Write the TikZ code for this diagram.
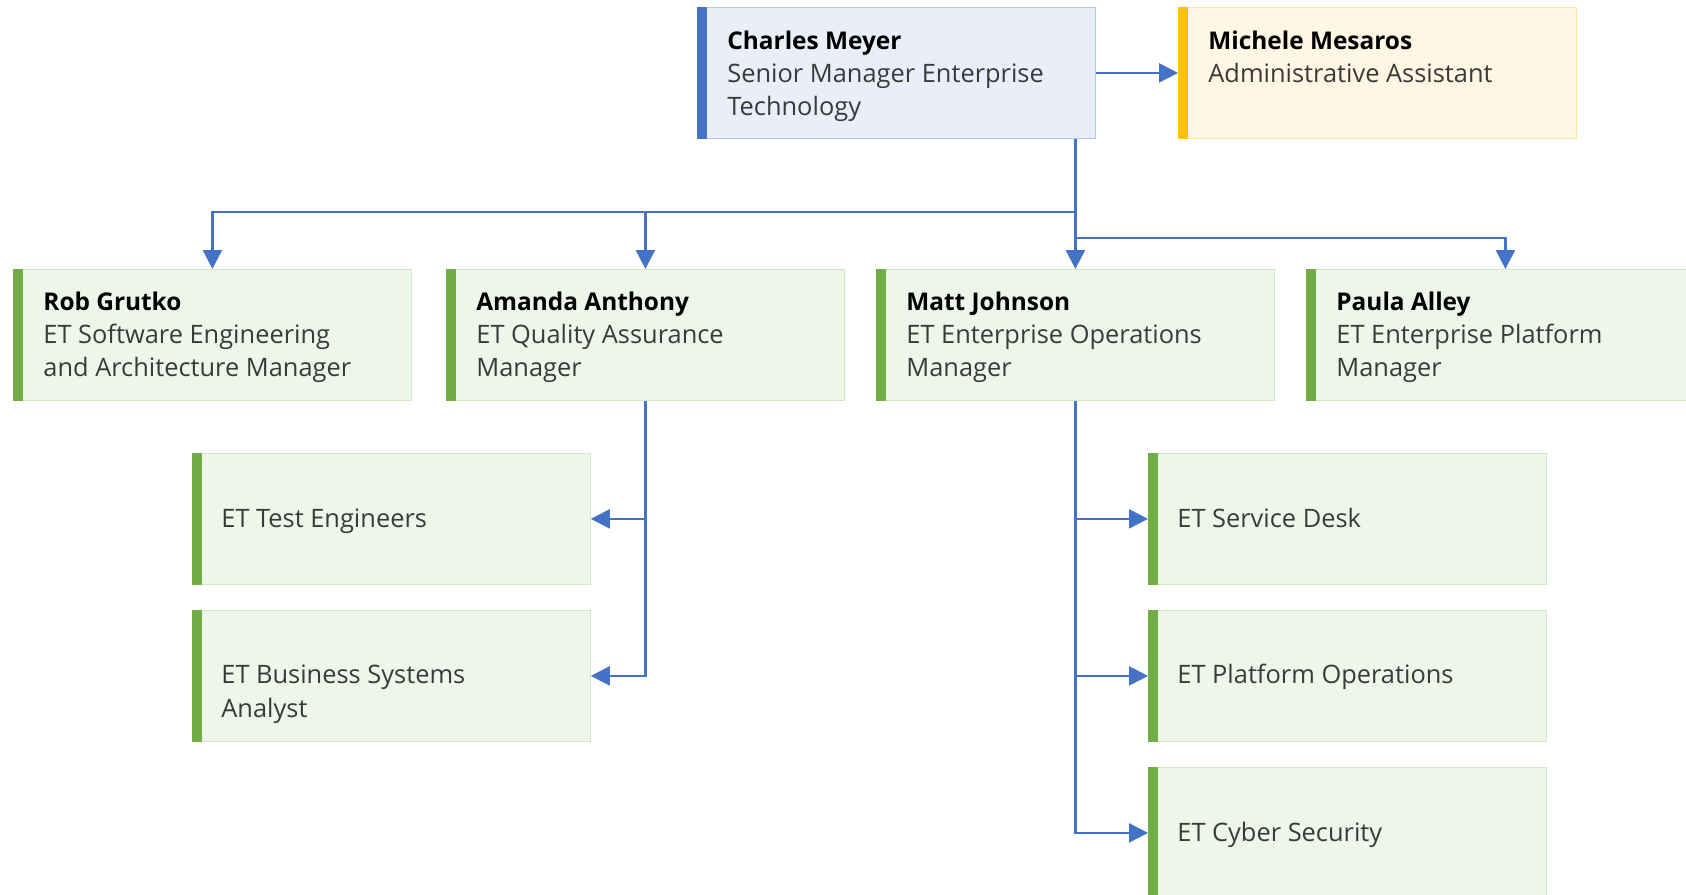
\documentclass[tikz,border=0pt]{standalone}
\usepackage{fontspec}
\setmainfont{Open Sans}
\usetikzlibrary{arrows.meta,calc}

\definecolor{connblue}{HTML}{4472C4}
\definecolor{bluebar}{HTML}{4472C4}
\definecolor{bluefill}{HTML}{E9EEF8}
\definecolor{blueline}{HTML}{B4C7E7}
\definecolor{goldbar}{HTML}{FFC000}
\definecolor{goldfill}{HTML}{FFF6E3}
\definecolor{goldline}{HTML}{FFE699}
\definecolor{greenbar}{HTML}{70AD47}
\definecolor{greenfill}{HTML}{EEF6EA}
\definecolor{greenline}{HTML}{D3E8C7}
\definecolor{titlegray}{HTML}{3A3A3A}

\tikzset{
  card/.style={rectangle, anchor=north west, inner sep=0pt,
    minimum width=198.8pt, minimum height=65.3pt,
    draw=#1line, fill=#1fill, line width=0.6pt},
  namefont/.style={anchor=base west, inner sep=0pt, text=black,
    font=\fontsize{12.2pt}{16.5pt}\selectfont\bfseries},
  titlefont/.style={anchor=base west, inner sep=0pt, text=titlegray,
    font=\fontsize{12.7pt}{16.5pt}\selectfont},
  conn/.style={draw=connblue, line width=1.2pt,
    -{Triangle[length=9.5pt,width=9.5pt]}},
}

% draws the coloured strip along the left edge of a card
\newcommand{\cardbar}[2]{%
  \fill[#2] (#1.north west) rectangle ($(#1.south west)+(10,0)$);}

\begin{document}
\begin{tikzpicture}[x=0.5pt,y=-0.5pt]
\clip (0,0) rectangle (1686,894);
\fill[white] (0,0) rectangle (1686,894);

% cards
\node[card=blue]  (charles) at (697,7) {};
\node[card=gold]  (michele) at (1178,7) {};
\node[card=green] (rob)     at (13,269) {};
\node[card=green] (amanda)  at (446,269) {};
\node[card=green] (matt)    at (876,269) {};
\node[card=green] (paula)   at (1306,269) {};
\node[card=green] (test)    at (192,453) {};
\node[card=green] (bsa)     at (192,610) {};
\node[card=green] (desk)    at (1148,453) {};
\node[card=green] (platops) at (1148,610) {};
\node[card=green] (cyber)   at (1148,767) {};

\cardbar{charles}{bluebar}
\cardbar{michele}{goldbar}
\foreach \c in {rob,amanda,matt,paula,test,bsa,desk,platops,cyber}
  {\cardbar{\c}{greenbar}}

% card texts
\node[namefont]  (charles-n)  at ($(charles.north west)+(30,42)$) {Charles Meyer};
\node[titlefont] (charles-t1) at ($(charles.north west)+(30,75)$) {Senior Manager Enterprise};
\node[titlefont] (charles-t2) at ($(charles.north west)+(30,108)$) {Technology};

\node[namefont]  (michele-n)  at ($(michele.north west)+(30,42)$) {Michele Mesaros};
\node[titlefont] (michele-t1) at ($(michele.north west)+(30,75)$) {Administrative Assistant};

\node[namefont]  (rob-n)  at ($(rob.north west)+(30,41)$) {Rob Grutko};
\node[titlefont] (rob-t1) at ($(rob.north west)+(30,74)$) {ET Software Engineering};
\node[titlefont] (rob-t2) at ($(rob.north west)+(30,107)$) {and Architecture Manager};

\node[namefont]  (amanda-n)  at ($(amanda.north west)+(30,41)$) {Amanda Anthony};
\node[titlefont] (amanda-t1) at ($(amanda.north west)+(30,74)$) {ET Quality Assurance};
\node[titlefont] (amanda-t2) at ($(amanda.north west)+(30,107)$) {Manager};

\node[namefont]  (matt-n)  at ($(matt.north west)+(30,41)$) {Matt Johnson};
\node[titlefont] (matt-t1) at ($(matt.north west)+(30,74)$) {ET Enterprise Operations};
\node[titlefont] (matt-t2) at ($(matt.north west)+(30,107)$) {Manager};

\node[namefont]  (paula-n)  at ($(paula.north west)+(30,41)$) {Paula Alley};
\node[titlefont] (paula-t1) at ($(paula.north west)+(30,74)$) {ET Enterprise Platform};
\node[titlefont] (paula-t2) at ($(paula.north west)+(30,107)$) {Manager};

\node[titlefont] (test-t1)    at ($(test.north west)+(29,74)$) {ET Test Engineers};
\node[titlefont] (bsa-t1)     at ($(bsa.north west)+(29,73)$) {ET Business Systems};
\node[titlefont] (bsa-t2)     at ($(bsa.north west)+(29,107)$) {Analyst};
\node[titlefont] (desk-t1)    at ($(desk.north west)+(29,74)$) {ET Service Desk};
\node[titlefont] (platops-t1) at ($(platops.north west)+(29,73)$) {ET Platform Operations};
\node[titlefont] (cyber-t1)   at ($(cyber.north west)+(29,74)$) {ET Cyber Security};

% reporting lines
\coordinate (busA) at (0,212);
\coordinate (busB) at (0,238);
\coordinate (drop) at (charles.south -| matt.north);

\draw[conn] (charles.east) -- (michele.west);
\draw[conn] (drop) |- (busA -| rob.north) -- (rob.north);
\draw[conn] (drop) |- (busA -| amanda.north) -- (amanda.north);
\draw[conn] (drop) -- (matt.north);
\draw[conn] (drop) |- (busB -| paula.north) -- (paula.north);

\draw[conn] (amanda.south) |- (test.east);
\draw[conn] (amanda.south) |- (bsa.east);

\draw[conn] (matt.south) |- (desk.west);
\draw[conn] (matt.south) |- (platops.west);
\draw[conn] (matt.south) |- (cyber.west);
\end{tikzpicture}
\end{document}
